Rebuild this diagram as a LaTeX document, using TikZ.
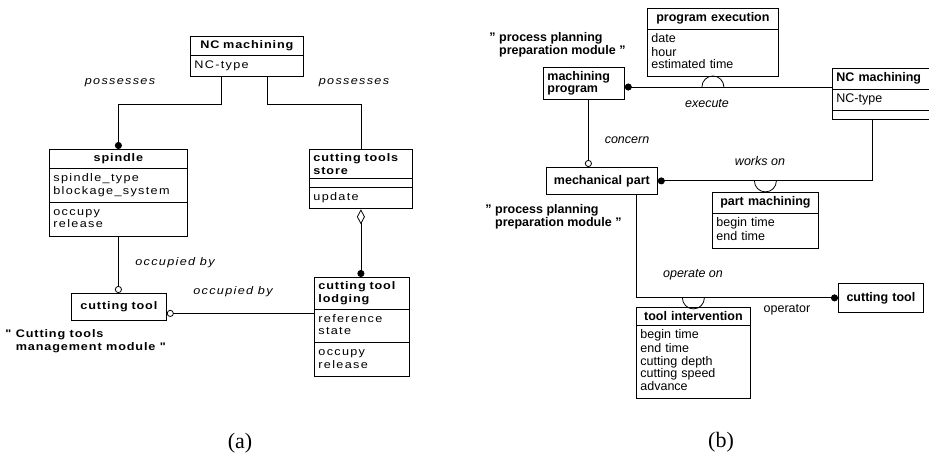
\documentclass[tikz,border=0pt]{standalone}
\usepackage{fontspec}
\setmainfont{Liberation Sans}
\newfontfamily\afont{Liberation Sans}[FakeStretch=1.15,LetterSpace=12,BoldFeatures={LetterSpace=8}]
\newfontfamily\capfont{Liberation Serif}
\usetikzlibrary{shapes.multipart,arrows.meta}

\newcommand{\pa}{\afont\fontsize{11}{12.5}\selectfont}
\newcommand{\pb}{\fontsize{12.5}{12.5}\selectfont}
\newcommand{\ctitle}[1]{\centerline{\bfseries #1}}
\newcommand{\fields}[1]{\strut #1\strut}

\tikzset{
  umlclass/.style={draw, rectangle split, rectangle split parts=#1,
    anchor=north west, align=left, inner xsep=4pt, inner ysep=4pt,
    rectangle split empty part height=2pt, rectangle split empty part depth=0pt},
  umlobject/.style={draw, anchor=north west, align=left,
    inner xsep=4pt, inner ysep=4pt, minimum height=27pt},
  rolename/.style={font=\itshape},
  modulename/.style={font=\bfseries, align=left, anchor=west, inner sep=0pt},
  caption/.style={font=\capfont\fontsize{22}{24}\selectfont},
}

\begin{document}
\begin{tikzpicture}[x=1pt, y=-1pt, line width=0.8pt, node font=\pb]
\useasboundingbox (0,0) rectangle (929,454);

% --- (a) ---
\begin{scope}[node font=\pa]
\node[umlclass=2, text width=105pt] (ncA) at (190,36)
  {\ctitle{NC machining}\nodepart{two}\fields{NC-type}};
\node[umlclass=3, text width=130pt] (spindle) at (49,149)
  {\ctitle{spindle}\nodepart{two}\fields{spindle\_type\\blockage\_system}\nodepart{three}\fields{occupy\\release}};
\node[umlclass=3, text width=95pt] (store) at (309,149)
  {\bfseries cutting tools\\store\nodepart{two}\nodepart{three}\fields{update}};
\node[umlclass=3, text width=87pt] (lodging) at (314,277)
  {\bfseries cutting tool\\lodging\nodepart{two}\fields{reference\\state}\nodepart{three}\fields{occupy\\release}};
\node[umlobject, text width=87pt] (toolA) at (71,293) {\ctitle{cutting tool}};

\draw[-{Circle[length=7pt]}] ([xshift=-25.5pt]ncA.south) -- ++(0,27) -| (spindle.north);
\draw ([xshift=20.5pt]ncA.south) -- ++(0,27) -| (store.north);
\draw[-{Circle[open,length=7pt]}] (spindle.south) -- (spindle.south |- toolA.north);
\draw[{Diamond[open,length=15pt,width=8pt]}-{Circle[length=7pt]}] (store.south) -- (store.south |- lodging.north);
\coordinate (occA) at ([yshift=-6.5pt]toolA.east);
\draw[{Circle[open,length=7pt]}-] (occA) -- (occA -| lodging.west);

\node[rolename] (possL) at (120,83) {possesses};
\node[rolename] (possR) at (354,83) {possesses};
\node[rolename] (occL) at (175,263) {occupied by};
\node[rolename] (occR) at (233,292) {occupied by};
\node[modulename] (modA) at (5,341) {" Cutting tools\\\phantom{" }management module "};
\end{scope}
\node[caption] (capA) at (240,443) {(a)};

% --- (b) ---
\node[umlclass=2, text width=123pt] (progexec) at (647,8)
  {\ctitle{program execution}\nodepart{two}\fields{date\\hour\\estimated time}};
\node[umlobject, text width=73pt] (machprog) at (543,67) {\bfseries machining\\program};
\node[umlclass=3, text width=97pt] (ncB) at (832,68)
  {\bfseries NC machining\nodepart{two}\fields{NC-type}\nodepart{three}};
\node[umlobject, text width=103pt] (mechpart) at (546,167) {\ctitle{mechanical part}};
\node[umlclass=2, text width=98pt] (partmach) at (712,192)
  {\ctitle{part machining}\nodepart{two}\fields{begin time\\end time}};
\node[umlclass=2, text width=106pt] (toolint) at (636,307)
  {\ctitle{tool intervention}\nodepart{two}\fields{begin time\\end time\\cutting depth\\cutting speed\\advance}};
\node[umlobject, text width=77pt, minimum height=29pt] (toolB) at (838,283) {\ctitle{cutting tool}};

% execute, with its link class
\coordinate (exe) at ([yshift=-3.5pt]machprog.east);
\draw[{Circle[length=7pt]}-] (exe) -- (exe -| ncB.west);
\draw (progexec.south |- exe) ++(-11pt,0) arc[start angle=180, end angle=0, radius=11pt];

% concern
\coordinate (conc) at ([xshift=4.5pt]machprog.south);
\draw[-{Circle[open,length=7pt]}] (conc) -- (conc |- mechpart.north);

% works on
\coordinate (wrk) at ([xshift=-12.5pt]ncB.south);
\draw[{Circle[length=7pt]}-] (mechpart.east) -| (wrk);
\draw (partmach.north |- mechpart.east) ++(-11pt,0) arc[start angle=180, end angle=360, radius=11pt];

% operate on
\coordinate (opr) at ([xshift=34.5pt]mechpart.south);
\draw[-{Circle[length=7pt]}] (opr) |- (toolB.west);
\draw (toolint.north |- toolB.west) ++(-11pt,0) arc[start angle=180, end angle=360, radius=11pt];

\node[modulename] (modB1) at (489,45) {" process planning\\\phantom{" }preparation module "};
\node[modulename] (modB2) at (485,217) {" process planning\\\phantom{" }preparation module "};
\node[rolename] (exeL) at (707,104) {execute};
\node[rolename] (concL) at (627,140) {concern};
\node[rolename] (worksL) at (760,161) {works on};
\node[rolename] (operL) at (693,275) {operate on};
\node (oprL) at (787,310) {operator};
\node[caption] (capB) at (721,442) {(b)};
\end{tikzpicture}
\end{document}
